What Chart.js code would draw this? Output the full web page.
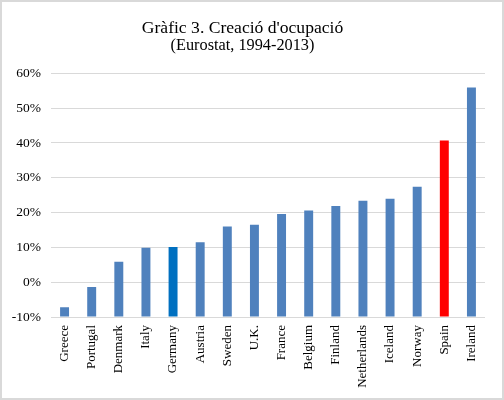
<!DOCTYPE html>
<html>
<head>
<meta charset="utf-8">
<script src="https://cdn.jsdelivr.net/npm/chart.js@4/dist/chart.umd.min.js"></script>
<style>
  html, body { margin: 0; padding: 0; background: #fff; }
  #wrap { width: 504px; height: 400px; position: relative; }
</style>
</head>
<body>
<div id="wrap"><canvas id="chart" width="504" height="400"></canvas></div>
<script>
// data (% employment growth 1994-2013)
const countries = ['Greece', 'Portugal', 'Denmark', 'Italy', 'Germany', 'Austria', 'Sweden', 'U.K.',
                   'France', 'Belgium', 'Finland', 'Netherlands', 'Iceland', 'Norway', 'Spain', 'Ireland'];
const growth = [-7.2, -1.4, 5.9, 9.9, 10.1, 11.5, 16.0, 16.5, 19.6, 20.6, 21.9, 23.4, 24.0, 27.4, 40.7, 55.9];
const yTicks = [-10, 0, 10, 20, 30, 40, 50, 60];

const BLUE = '#4f81bd';
const barColors = countries.map(c => {
    if (c === 'Spain') return '#ff0000';
    if (c === 'Germany') return '#0070c0';
    return BLUE;
});

const serif = "'Liberation Serif', 'Times New Roman', serif";

// light gray frame round the whole picture
const framePlugin = {
    id: 'frame',
    afterDraw(chart) {
        const ctx = chart.ctx;
        ctx.save();
        ctx.strokeStyle = '#d9d9d9';
        ctx.lineWidth = 2;
        ctx.strokeRect(1, 1, chart.width - 2, chart.height - 2);
        ctx.restore();
    }
};

new Chart(document.getElementById('chart').getContext('2d'), {
    type: 'bar',
    data: {
        labels: countries,
        datasets: [{
            data: growth,
            base: yTicks[0],
            backgroundColor: barColors,
            borderWidth: 0,
            categoryPercentage: 1,
            barPercentage: 0.33
        }]
    },
    options: {
        responsive: false,
        animation: false,
        devicePixelRatio: 1,
        layout: { padding: { left: 0, right: 19, top: 0, bottom: 0 } },
        plugins: {
            legend: { display: false },
            tooltip: { enabled: false },
            title: {
                display: true,
                text: "Gràfic 3. Creació d'ocupació",
                color: '#000',
                font: { family: serif, size: 17.6, weight: 'normal', lineHeight: 1.0 },
                padding: { top: 19.2, bottom: 0 }
            },
            subtitle: {
                display: true,
                text: '(Eurostat, 1994-2013)',
                color: '#000',
                font: { family: serif, size: 16.3, weight: 'normal', lineHeight: 1.15 },
                padding: { top: 0, bottom: 17.8 }
            }
        },
        scales: {
            y: {
                min: yTicks[0],
                max: yTicks[yTicks.length - 1],
                afterBuildTicks(scale) {
                    scale.ticks = yTicks.map(v => ({ value: v }));
                },
                afterFit(scale) { scale.width = 51; },
                border: { display: false },
                grid: { color: '#d9d9d9', lineWidth: 1, drawTicks: false },
                ticks: {
                    padding: 10,
                    color: '#000',
                    font: { family: serif, size: 13.5 },
                    callback: v => v + '%'
                }
            },
            x: {
                afterFit(scale) { scale.height = 83; },
                border: { display: false },
                grid: { display: false, drawTicks: false },
                ticks: {
                    padding: 8,
                    minRotation: 90,
                    maxRotation: 90,
                    autoSkip: false,
                    color: '#000',
                    font: { family: serif, size: 13 }
                }
            }
        }
    },
    plugins: [framePlugin]
});
</script>
</body>
</html>
